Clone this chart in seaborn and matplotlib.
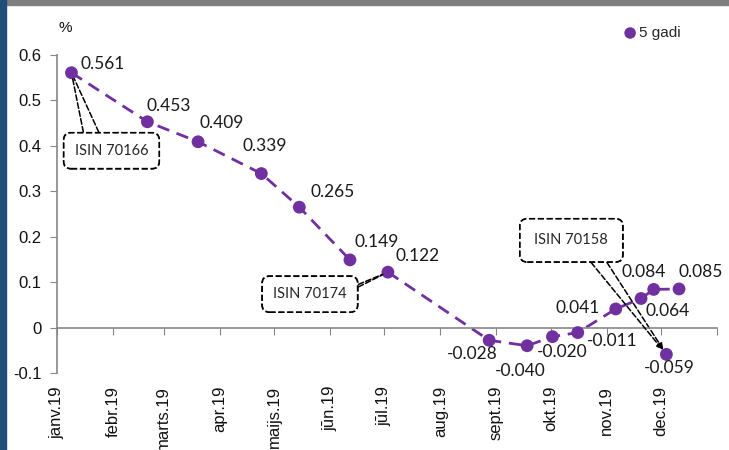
import matplotlib
matplotlib.use("Agg")
import matplotlib.pyplot as plt
from matplotlib.patches import Rectangle
import seaborn as sns
import numpy as np
import pandas as pd

#%% Data: 5-year bond auction yields, 2019
dates = ["2019-01-09", "2019-02-20", "2019-03-20", "2019-04-24", "2019-05-15",
         "2019-06-12", "2019-07-03", "2019-08-28", "2019-09-18", "2019-10-02",
         "2019-10-16", "2019-11-06", "2019-11-20", "2019-11-27", "2019-12-04",
         "2019-12-11"]
yields = [0.561, 0.453, 0.409, 0.339, 0.265, 0.149, 0.122, -0.028, -0.040,
          -0.020, -0.011, 0.041, 0.064, 0.084, -0.059, 0.085]
# bond issue for each auction, line only joins auctions of the same issue
isin = ["70166"] * 6 + ["70174"] * 8 + ["70158"] + ["70174"]

month_labels = ["janv.19", "febr.19", "marts.19", "apr.19", "maijs.19", "jūn.19",
                "jūl.19", "aug.19", "sept.19", "okt.19", "nov.19", "dec.19"]
y_ticks = [-0.1, 0, 0.1, 0.2, 0.3, 0.4, 0.5, 0.6]
y_labels = ["-0.1", "0", "0.1", "0.2", "0.3", "0.4", "0.5", "0.6"]
series_name = "5 gadi"

# label offsets in pixels from each point (dx, dy)
label_offsets = [(31, 9), (21, 16), (24, 19), (3, 28), (33, 15), (27, 18), (30, 16),
                 (-17, -14), (-7, -25), (10, -15), (34, -8), (-38, 1), (27, -13),
                 (-10, 17), (3, -14), (22, 17)]

df = pd.DataFrame({"date": pd.to_datetime(dates), "yield": yields, "isin": isin})

purple = "#7030A0"
axis_grey = "#868686"

sns.set_style("white")
plt.rcParams["font.family"] = ["Liberation Sans", "DejaVu Sans"]

fig = plt.figure(figsize=(7.29, 4.5), dpi=100)
ax = fig.add_axes([57 / 729, 1 - 373 / 450, (717 - 57) / 729, (373 - 55) / 450])

# dashed line per bond issue
sns.lineplot(data=df, x="date", y="yield", units="isin", estimator=None,
             color=purple, lw=2, linestyle=(0, (4.5, 2.8)), ax=ax, legend=False)
sns.scatterplot(data=df, x="date", y="yield", color=purple, s=85,
                edgecolor="none", label=series_name, zorder=3, ax=ax)

# value labels
for d, v, (dx, dy) in zip(df["date"], yields, label_offsets):
    ax.annotate(f"{v:.3f}", (d, v), xytext=(dx, dy), textcoords="offset pixels",
                ha="center", va="center", fontsize=12.5, family="Lato",
                color="#1a1a1a")

# callouts for bond issues
def callout(text, idx, offset, relposes, arrow="-", pad=0.75):
    d, v = df["date"][idx], yields[idx]
    box = dict(boxstyle=f"round,pad={pad},rounding_size=0.5", fc="white",
               ec="black", ls="--", lw=1.2)
    for k, rp in enumerate(relposes):
        ax.annotate(text, (d, v), xytext=offset, textcoords="offset pixels",
                    ha="center", va="center", fontsize=10.5, family="Lato",
                    color="#262626", bbox=box, zorder=4 if k == 0 else 2,
                    alpha=1 if k == 0 else 0,
                    arrowprops=dict(arrowstyle=arrow, ls="--", lw=1.1, color="black",
                                    relpos=rp, shrinkA=0, shrinkB=4))

callout("ISIN 70166", 0, (40, -78), [(0.15, 1), (0.4, 1)])
callout("ISIN 70174", 6, (-78, -22), [(1, 0.85), (1, 0.6)])
callout("ISIN 70158", 14, (-95, 114), [(0.6, 0), (0.85, 0)],
        arrow="-|>,head_length=0.35,head_width=0.15", pad=1.0)

# axes
ax.set_xlim(pd.Timestamp("2019-01-01"), pd.Timestamp("2020-01-01"))
ax.set_ylim(-0.1, 0.6)
month_starts = pd.date_range("2019-01-01", "2020-01-01", freq="MS")
ax.set_xticks(month_starts)
ax.set_xticklabels(month_labels + [""])
ax.set_yticks(y_ticks)
ax.set_yticklabels(y_labels)
ax.set_xlabel("")
ax.set_ylabel("")

ax.spines["bottom"].set_position(("data", 0))
for s in ["top", "right"]:
    ax.spines[s].set_visible(False)
for s in ["bottom", "left"]:
    ax.spines[s].set_color(axis_grey)
    ax.spines[s].set_linewidth(1.2)
ax.tick_params(axis="x", direction="out", length=5, color=axis_grey, pad=37,
               bottom=True, labelcolor="#111111", labelrotation=90, labelsize=12)
ax.tick_params(axis="y", direction="out", length=5, color=axis_grey, pad=6,
               left=True, labelcolor="#111111", labelsize=12)

ax.text(65 / 729, 1 - 28 / 450, "%", transform=fig.transFigure, fontsize=11,
        ha="center", va="center", color="#111111")

leg = ax.legend(loc="center left", bbox_to_anchor=(624 / 729, 1 - 33 / 450),
                bbox_transform=fig.transFigure, frameon=False, fontsize=11,
                handlelength=0.8, handletextpad=0.15, borderaxespad=0,
                borderpad=0, markerscale=0.9)

# slide frame edges
fig.patches.append(Rectangle((0, 1 - 5 / 450), 1, 5 / 450, transform=fig.transFigure,
                             color="#7f7f7f", zorder=10))
fig.patches.append(Rectangle((0, 0), 6 / 729, 1, transform=fig.transFigure,
                             color="#1F4E79", zorder=11))

fig.savefig("out.png", dpi=100)
